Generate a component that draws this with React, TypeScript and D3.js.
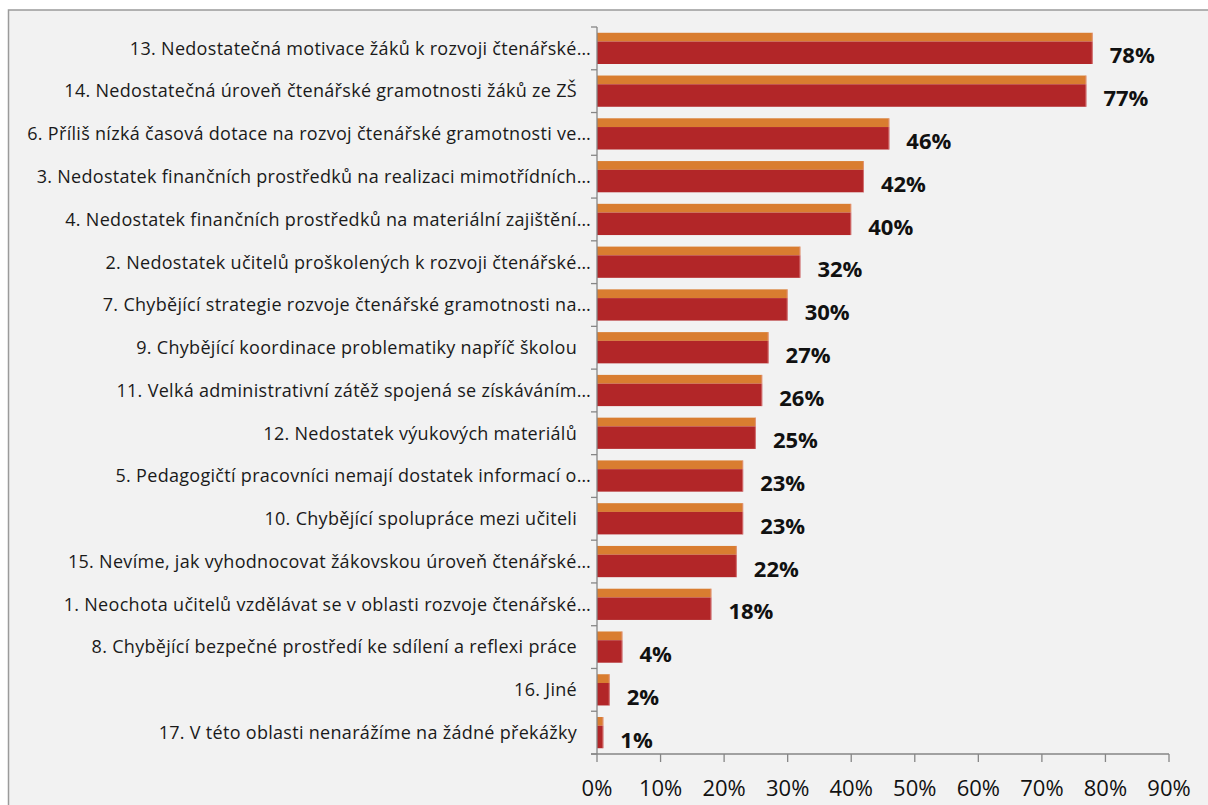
import React from "react";
import * as d3 from "d3";

const categories: string[] = [
  "13. Nedostatečná motivace žáků k rozvoji čtenářské…",
  "14. Nedostatečná úroveň čtenářské gramotnosti žáků ze ZŠ",
  "6. Příliš nízká časová dotace na rozvoj čtenářské gramotnosti ve…",
  "3. Nedostatek finančních prostředků na realizaci mimotřídních…",
  "4. Nedostatek finančních prostředků na materiální zajištění…",
  "2. Nedostatek učitelů proškolených k rozvoji čtenářské…",
  "7. Chybějící strategie rozvoje čtenářské gramotnosti na…",
  "9. Chybějící koordinace problematiky napříč školou",
  "11. Velká administrativní zátěž spojená se získáváním…",
  "12. Nedostatek výukových materiálů",
  "5. Pedagogičtí pracovníci nemají dostatek informací o…",
  "10. Chybějící spolupráce mezi učiteli",
  "15. Nevíme, jak vyhodnocovat žákovskou úroveň čtenářské…",
  "1. Neochota učitelů vzdělávat se v oblasti rozvoje čtenářské…",
  "8. Chybějící bezpečné prostředí ke sdílení a reflexi práce",
  "16. Jiné",
  "17. V této oblasti nenarážíme na žádné překážky",
];

const values: number[] = [78, 77, 46, 42, 40, 32, 30, 27, 26, 25, 23, 23, 22, 18, 4, 2, 1];

const tickValues: number[] = [0, 10, 20, 30, 40, 50, 60, 70, 80, 90];

const W = 1208;
const H = 805;
const X0 = 597;
const X1 = 1169;
const Y0 = 27;
const Y1 = 754;

export default function App() {
  const x = d3.scaleLinear().domain([0, 90]).range([X0, X1]);
  const y = d3
    .scaleBand<string>()
    .domain(categories)
    .range([Y0, Y1])
    .paddingInner(0.27)
    .paddingOuter(0.135);
  const step = y.step();
  const bw = y.bandwidth();
  const topH = bw * 0.28;
  const font = "'Open Sans', 'DejaVu Sans', sans-serif";
  const boundaries = d3.range(categories.length + 1).map((i) => Y0 + i * step);

  return (
    <div style={{ position: "fixed", left: 0, top: 0, width: W, height: H, overflow: "hidden", background: "#fff" }}>
      <svg width={W} height={H} style={{ display: "block" }}>
        <rect x={8.5} y={10} width={W + 20} height={H + 20} fill="#f2f2f2" stroke="#9b9b9b" strokeWidth={1.5} />
        {categories.map((c, i) => {
          const by = y(c)!;
          const w = x(values[i]) - x(0);
          return (
            <g key={c}>
              <rect x={x(0)} y={by} width={w} height={topH} fill="#d97d30" />
              <rect x={x(0)} y={by + topH} width={w} height={bw - topH} fill="#b22628" />
              <line x1={x(values[i]) - 0.5} x2={x(values[i]) - 0.5} y1={by} y2={by + bw} stroke="#e8a0a0" strokeWidth={1} opacity={0.6} />
              <text
                x={x(values[i]) + 17}
                y={by + topH + (bw - topH) / 2 + 3}
                dy="0.35em"
                fontFamily={font}
                fontWeight={700}
                fontSize={22}
                fill="#111"
              >
                {values[i]}%
              </text>
              <text
                x={c.endsWith("…") ? 591 : 577}
                y={by + bw / 2}
                dy="0.35em"
                textAnchor="end"
                fontFamily={font}
                fontSize={18}
                letterSpacing={0.3}
                fill="#1a1a1a"
              >
                {c}
              </text>
            </g>
          );
        })}
        <line x1={X0} x2={X0} y1={Y0} y2={Y1} stroke="#868686" strokeWidth={1.3} />
        {boundaries.map((b, i) => (
          <line key={"yt" + i} x1={X0 - 6} x2={X0} y1={b} y2={b} stroke="#868686" strokeWidth={1.3} />
        ))}
        <line x1={X0 - 6} x2={X1} y1={Y1} y2={Y1} stroke="#868686" strokeWidth={1.3} />
        {tickValues.map((t) => (
          <g key={"xt" + t}>
            <line x1={x(t)} x2={x(t)} y1={Y1} y2={Y1 + 8} stroke="#868686" strokeWidth={1.3} />
            <text x={x(t)} y={788} dy="0.35em" textAnchor="middle" fontFamily={font} fontSize={22} fill="#111">
              {t}%
            </text>
          </g>
        ))}
      </svg>
    </div>
  );
}
